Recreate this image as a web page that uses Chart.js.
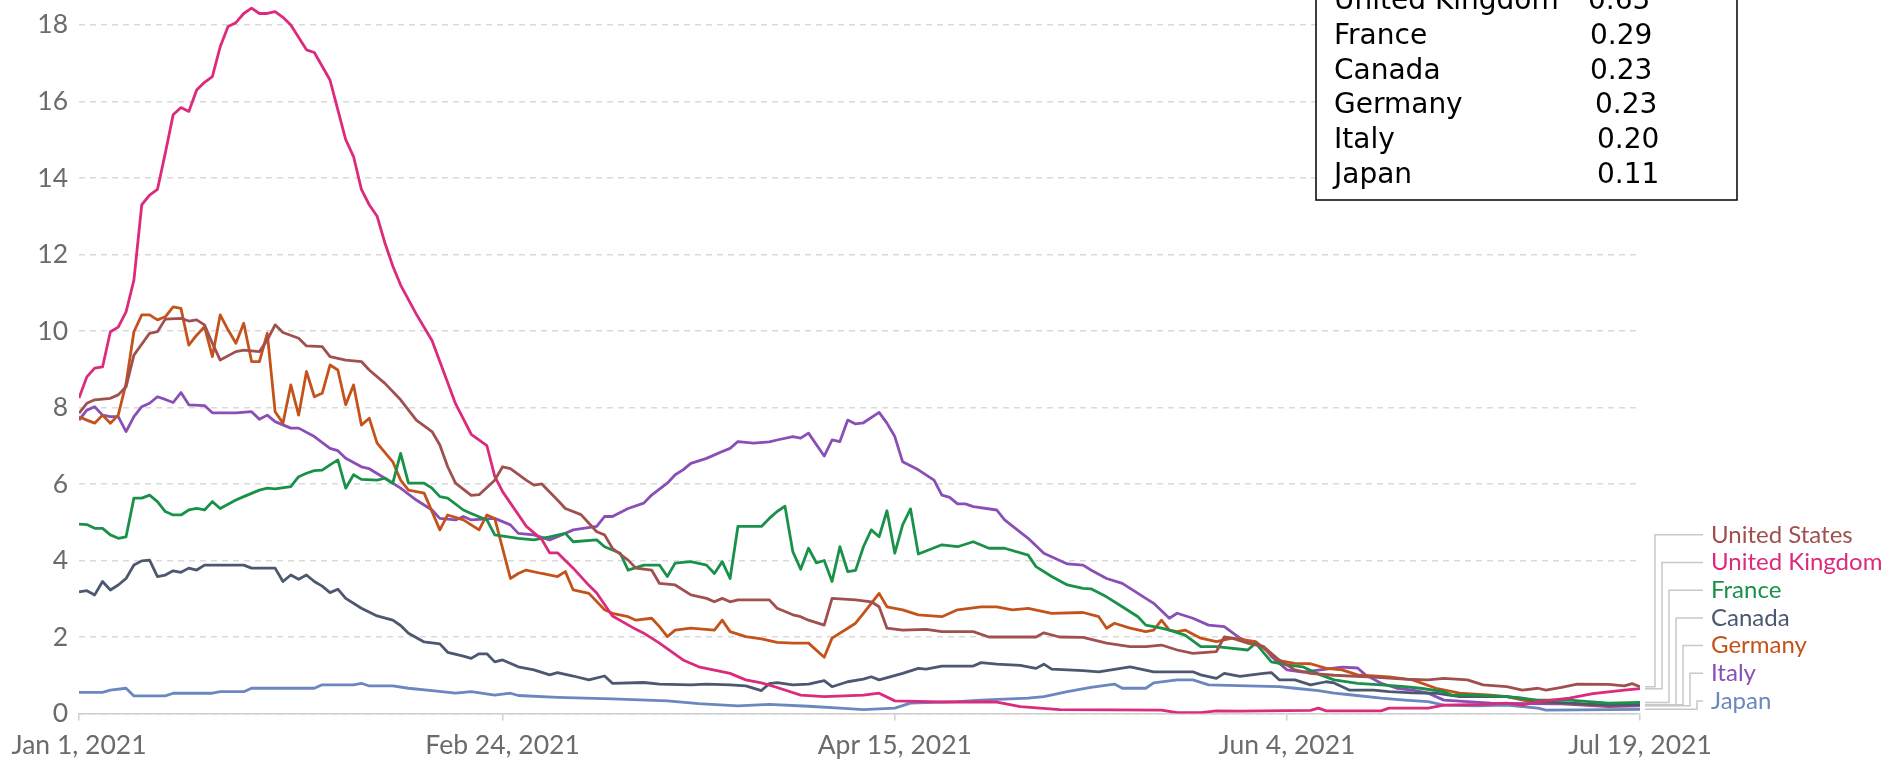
<!DOCTYPE html>
<html>
<head>
<meta charset="utf-8">
<title>Daily new confirmed COVID-19 deaths per million</title>
<script src="https://cdn.jsdelivr.net/npm/chart.js@4.4.1/dist/chart.umd.min.js"></script>
<style>
  html, body { margin: 0; padding: 0; background: #fff; }
  #chart { display: block; }
</style>
</head>
<body>
<canvas id="chart" width="1900" height="760"></canvas>
<script>
// days counted from Jan 1, 2021
const tickDays = [0, 54, 104, 154, 199];
const tickLabels = ['Jan 1, 2021', 'Feb 24, 2021', 'Apr 15, 2021', 'Jun 4, 2021', 'Jul 19, 2021'];
const yTicks = [0, 2, 4, 6, 8, 10, 12, 14, 16, 18];

const countries = ['United States', 'United Kingdom', 'France', 'Canada', 'Germany', 'Italy', 'Japan'];
const colors = ['#a0504e', '#dc2a7c', '#1a9149', '#4c5870', '#c4531b', '#8a4fb6', '#6a87bf'];

// [day, value]
const unitedStates = [[0,7.85],[1,8.11],[2,8.2],[4,8.24],[5,8.33],[6,8.54],[7,9.37],[9,9.94],[10,9.98],[11,10.31],[13,10.33],[14,10.26],[15,10.29],[16,10.16],[17,9.68],[18,9.24],[20,9.46],[21,9.5],[23,9.46],[24,9.76],[25,10.16],[26,9.96],[28,9.81],[29,9.61],[31,9.59],[32,9.33],[34,9.24],[36,9.2],[37,8.98],[39,8.63],[41,8.2],[43,7.67],[45,7.37],[46,7.02],[47,6.45],[48,6.02],[50,5.7],[51,5.72],[53,6.1],[54,6.45],[55,6.4],[57,6.1],[58,5.97],[59,6.0],[61,5.58],[62,5.36],[64,5.2],[66,4.75],[67,4.67],[68,4.32],[70,4.01],[71,3.8],[73,3.75],[74,3.4],[76,3.36],[78,3.1],[80,3.01],[81,2.92],[82,3.01],[83,2.92],[84,2.97],[88,2.97],[89,2.75],[91,2.58],[92,2.53],[93,2.44],[95,2.31],[96,3.01],[99,2.97],[101,2.92],[102,2.79],[103,2.23],[105,2.18],[108,2.2],[110,2.14],[114,2.14],[116,2.0],[119,2.0],[122,2.0],[123,2.11],[125,2.0],[128,1.99],[131,1.84],[134,1.75],[136,1.75],[138,1.79],[140,1.66],[142,1.57],[145,1.62],[146,2.0],[147,1.97],[149,1.84],[151,1.75],[153,1.4],[155,1.14],[157,1.05],[160,1.0],[165,0.95],[169,0.9],[172,0.88],[174,0.92],[177,0.88],[179,0.75],[182,0.7],[184,0.61],[186,0.66],[187,0.61],[189,0.68],[191,0.77],[195,0.76],[197,0.72],[198,0.78],[199,0.7]];
const unitedKingdom = [[0,8.25],[1,8.8],[2,9.03],[3,9.06],[4,9.98],[5,10.1],[6,10.5],[7,11.33],[8,13.3],[9,13.55],[10,13.7],[11,14.65],[12,15.65],[13,15.84],[14,15.74],[15,16.3],[16,16.5],[17,16.65],[18,17.43],[19,17.96],[20,18.06],[21,18.3],[22,18.44],[23,18.3],[24,18.3],[25,18.35],[26,18.2],[27,18.0],[29,17.35],[30,17.28],[32,16.56],[34,15.0],[35,14.56],[36,13.7],[37,13.3],[38,13.0],[39,12.3],[40,11.7],[41,11.2],[43,10.44],[45,9.75],[46,9.2],[48,8.1],[49,7.7],[50,7.3],[52,7.0],[53,6.2],[54,5.8],[57,4.9],[59,4.55],[60,4.2],[61,4.2],[63,3.8],[65,3.35],[66,3.15],[68,2.55],[71,2.2],[72,2.1],[74,1.84],[77,1.4],[79,1.22],[83,1.05],[85,0.88],[87,0.8],[89,0.68],[92,0.48],[95,0.44],[100,0.48],[102,0.53],[104,0.33],[110,0.3],[117,0.3],[120,0.18],[125,0.1],[138,0.09],[140,0.02],[143,0.02],[145,0.07],[148,0.06],[157,0.08],[158,0.14],[159,0.07],[166,0.07],[167,0.14],[172,0.14],[174,0.22],[179,0.24],[182,0.27],[184,0.22],[186,0.31],[190,0.4],[193,0.52],[197,0.61],[199,0.65]];
const france = [[0,4.95],[1,4.94],[2,4.84],[3,4.84],[4,4.67],[5,4.58],[6,4.62],[7,5.63],[8,5.63],[9,5.71],[10,5.54],[11,5.28],[12,5.19],[13,5.19],[14,5.32],[15,5.36],[16,5.32],[17,5.54],[18,5.36],[20,5.58],[21,5.67],[23,5.84],[24,5.89],[25,5.87],[27,5.93],[28,6.19],[29,6.28],[30,6.35],[31,6.36],[32,6.5],[33,6.63],[34,5.89],[35,6.24],[36,6.12],[38,6.1],[39,6.15],[40,6.02],[41,6.8],[42,6.02],[44,6.02],[45,5.89],[46,5.67],[47,5.63],[49,5.32],[50,5.23],[52,5.06],[53,4.67],[56,4.58],[58,4.54],[60,4.62],[62,4.71],[63,4.49],[66,4.54],[67,4.36],[69,4.19],[70,3.75],[72,3.88],[74,3.88],[75,3.58],[76,3.93],[78,3.97],[80,3.88],[81,3.66],[82,3.97],[83,3.53],[84,4.89],[87,4.89],[88,5.1],[89,5.28],[90,5.42],[91,4.23],[92,3.77],[93,4.32],[94,3.94],[95,4.0],[96,3.45],[97,4.36],[98,3.71],[99,3.74],[100,4.36],[101,4.8],[102,4.62],[103,5.3],[104,4.19],[105,4.93],[106,5.35],[107,4.17],[110,4.41],[112,4.36],[114,4.49],[116,4.32],[118,4.32],[121,4.14],[122,3.84],[124,3.58],[126,3.36],[128,3.27],[129,3.26],[131,3.05],[133,2.79],[135,2.53],[136,2.31],[138,2.23],[139,2.18],[141,2.05],[143,1.75],[145,1.75],[149,1.66],[150,1.84],[152,1.35],[154,1.27],[156,1.22],[158,1.03],[160,0.88],[163,0.79],[166,0.75],[169,0.7],[171,0.66],[174,0.57],[175,0.48],[178,0.48],[182,0.44],[186,0.35],[190,0.35],[195,0.27],[199,0.29]];
const canada = [[0,3.18],[1,3.21],[2,3.1],[3,3.45],[4,3.23],[5,3.36],[6,3.53],[7,3.88],[8,3.99],[9,4.01],[10,3.58],[11,3.62],[12,3.73],[13,3.69],[14,3.8],[15,3.75],[16,3.88],[21,3.88],[22,3.8],[25,3.8],[26,3.45],[27,3.62],[28,3.51],[29,3.62],[30,3.45],[31,3.33],[32,3.16],[33,3.25],[34,3.01],[36,2.75],[38,2.55],[40,2.44],[41,2.3],[42,2.1],[44,1.87],[46,1.82],[47,1.6],[49,1.5],[50,1.44],[51,1.56],[52,1.56],[53,1.35],[54,1.4],[56,1.22],[58,1.14],[60,1.01],[61,1.07],[63,0.98],[65,0.88],[67,0.98],[68,0.79],[72,0.81],[74,0.77],[78,0.75],[80,0.77],[83,0.75],[85,0.72],[87,0.6],[88,0.78],[89,0.81],[91,0.75],[93,0.77],[95,0.86],[96,0.7],[98,0.83],[100,0.9],[101,0.96],[102,0.88],[105,1.05],[107,1.18],[108,1.16],[110,1.24],[114,1.24],[115,1.33],[117,1.29],[120,1.26],[122,1.18],[123,1.29],[124,1.16],[128,1.12],[130,1.09],[134,1.22],[137,1.09],[142,1.09],[143,1.01],[145,0.92],[146,1.05],[148,0.97],[151,1.05],[152,1.07],[153,0.88],[155,0.88],[157,0.75],[159,0.83],[160,0.8],[162,0.61],[165,0.61],[167,0.57],[170,0.54],[173,0.53],[176,0.44],[182,0.44],[184,0.4],[186,0.31],[190,0.27],[195,0.22],[199,0.23]];
const germany = [[0,7.76],[1,7.67],[2,7.59],[3,7.8],[4,7.59],[5,7.8],[6,8.63],[7,9.98],[8,10.42],[9,10.42],[10,10.29],[11,10.37],[12,10.63],[13,10.59],[14,9.63],[15,9.89],[16,10.11],[17,9.33],[18,10.42],[19,10.03],[20,9.68],[21,10.2],[22,9.2],[23,9.2],[24,9.94],[25,7.89],[26,7.59],[27,8.59],[28,7.8],[29,8.94],[30,8.28],[31,8.37],[32,9.11],[33,8.98],[34,8.07],[35,8.59],[36,7.54],[37,7.72],[38,7.07],[40,6.58],[41,6.1],[42,5.84],[44,5.76],[46,4.8],[47,5.19],[49,5.06],[51,4.8],[52,5.19],[53,5.1],[55,3.53],[56,3.66],[57,3.75],[59,3.66],[61,3.58],[62,3.71],[63,3.23],[65,3.14],[67,2.71],[68,2.62],[70,2.53],[71,2.44],[73,2.49],[74,2.27],[75,2.01],[76,2.18],[78,2.23],[81,2.18],[82,2.44],[83,2.14],[85,2.01],[87,1.95],[89,1.86],[91,1.84],[93,1.84],[95,1.47],[96,1.97],[98,2.23],[99,2.36],[100,2.62],[102,3.14],[103,2.79],[105,2.71],[107,2.58],[110,2.53],[112,2.71],[115,2.79],[117,2.79],[119,2.71],[121,2.75],[124,2.62],[128,2.64],[130,2.53],[131,2.23],[132,2.36],[134,2.23],[136,2.14],[137,2.18],[138,2.44],[139,2.18],[140,2.14],[141,2.18],[143,1.97],[145,1.88],[147,1.97],[150,1.88],[153,1.38],[155,1.31],[157,1.3],[159,1.18],[161,1.14],[163,1.01],[167,0.96],[170,0.88],[173,0.66],[176,0.53],[180,0.48],[182,0.44],[185,0.31],[189,0.27],[195,0.2],[199,0.23]];
const italy = [[0,7.67],[1,7.93],[2,8.02],[3,7.8],[4,7.76],[5,7.76],[6,7.37],[7,7.76],[8,8.02],[9,8.11],[10,8.28],[11,8.21],[12,8.13],[13,8.39],[14,8.07],[16,8.05],[17,7.86],[20,7.86],[22,7.89],[23,7.69],[24,7.8],[25,7.63],[27,7.46],[28,7.46],[30,7.24],[32,6.93],[33,6.87],[34,6.67],[36,6.45],[37,6.4],[39,6.15],[41,5.89],[43,5.58],[45,5.32],[46,5.1],[48,5.06],[49,5.15],[50,5.06],[53,5.1],[55,4.93],[56,4.71],[58,4.67],[60,4.54],[61,4.62],[63,4.8],[66,4.89],[67,5.15],[68,5.15],[70,5.36],[72,5.5],[73,5.71],[75,6.02],[76,6.24],[77,6.37],[78,6.54],[80,6.67],[82,6.85],[83,6.93],[84,7.11],[86,7.07],[88,7.1],[89,7.15],[91,7.24],[92,7.2],[93,7.33],[95,6.73],[96,7.15],[97,7.11],[98,7.67],[99,7.57],[100,7.6],[102,7.87],[103,7.59],[104,7.24],[105,6.58],[107,6.37],[109,6.1],[110,5.71],[111,5.65],[112,5.48],[113,5.48],[114,5.41],[117,5.32],[118,5.06],[121,4.58],[123,4.19],[126,3.91],[128,3.88],[129,3.75],[131,3.53],[133,3.4],[135,3.14],[137,2.88],[139,2.49],[140,2.62],[142,2.49],[144,2.31],[146,2.27],[148,1.97],[149,1.88],[151,1.75],[152,1.49],[154,1.14],[156,1.08],[159,1.16],[161,1.21],[163,1.19],[164,1.01],[166,0.79],[168,0.66],[170,0.61],[172,0.53],[174,0.35],[177,0.31],[180,0.27],[185,0.26],[189,0.25],[195,0.18],[199,0.2]];
const japan = [[0,0.55],[3,0.55],[4,0.61],[6,0.66],[7,0.46],[11,0.46],[12,0.53],[17,0.53],[18,0.57],[21,0.57],[22,0.66],[30,0.66],[31,0.75],[35,0.75],[36,0.79],[37,0.72],[40,0.72],[42,0.66],[45,0.6],[48,0.53],[50,0.57],[53,0.48],[55,0.53],[56,0.47],[61,0.42],[68,0.38],[75,0.33],[79,0.26],[84,0.2],[88,0.24],[93,0.19],[97,0.14],[100,0.1],[104,0.14],[106,0.27],[112,0.31],[115,0.35],[121,0.4],[123,0.44],[126,0.57],[129,0.68],[132,0.77],[133,0.66],[136,0.66],[137,0.8],[140,0.88],[142,0.88],[144,0.75],[149,0.72],[153,0.7],[155,0.66],[158,0.6],[160,0.53],[162,0.49],[166,0.4],[169,0.35],[172,0.31],[174,0.22],[178,0.2],[182,0.22],[186,0.14],[187,0.09],[199,0.11]];

const seriesData = [unitedStates, unitedKingdom, france, canada, germany, italy, japan];

// latest values listed in the box
const boxCountries = ['United Kingdom', 'France', 'Canada', 'Germany', 'Italy', 'Japan'];
const boxValues = ['0.65', '0.29', '0.23', '0.23', '0.20', '0.11'];

const tickFont = { family: 'Lato', size: 26.5 };
const tickColor = '#6b6b6b';

// line-end labels with connectors + value box
const labelsPlugin = {
    id: 'endLabels',
    afterDatasetsDraw(chart) {
        const ctx = chart.ctx;
        const area = chart.chartArea;
        ctx.save();
        ctx.lineWidth = 1.5;
        ctx.strokeStyle = '#c8c8c8';
        ctx.textBaseline = 'middle';
        ctx.font = '24px Lato';
        chart.data.datasets.forEach((ds, i) => {
            const pts = chart.getDatasetMeta(i).data;
            const end = pts[pts.length - 1];
            const labelY = area.bottom - 12.5 - (countries.length - 1 - i) * 27.7;
            const elbowX = area.right + 15 + i * 7;
            ctx.beginPath();
            ctx.moveTo(end.x + 5, end.y);
            ctx.lineTo(elbowX, end.y);
            ctx.lineTo(elbowX, labelY);
            ctx.lineTo(area.right + 63, labelY);
            ctx.stroke();
            ctx.fillStyle = ds.borderColor;
            ctx.fillText(ds.label, area.right + 71, labelY);
        });
        ctx.restore();
    },
    afterDraw(chart) {
        const ctx = chart.ctx;
        ctx.save();
        ctx.fillStyle = '#fff';
        ctx.fillRect(1316, -10, 421, 210);
        ctx.strokeStyle = '#000';
        ctx.lineWidth = 1.5;
        ctx.strokeRect(1316, -10, 421, 210);
        ctx.fillStyle = '#000';
        ctx.font = '28px "DejaVu Sans"';
        ctx.textBaseline = 'alphabetic';
        const valueX = [1588, 1590, 1590, 1595, 1597, 1597];
        boxCountries.forEach((name, i) => {
            const y = 9 + i * 34.8;
            ctx.fillText(name, 1334, y);
            ctx.fillText(boxValues[i], valueX[i], y);
        });
        ctx.restore();
    }
};

window.onload = function () {
    const ctx = document.getElementById('chart').getContext('2d');
    new Chart(ctx, {
        type: 'line',
        data: {
            datasets: countries.map((name, i) => ({
                label: name,
                data: seriesData[i].map(p => ({ x: p[0], y: p[1] })),
                borderColor: colors[i],
                backgroundColor: colors[i],
                borderWidth: 2.8,
                pointRadius: 0,
                tension: 0,
                borderJoinStyle: 'round',
                fill: false
            }))
        },
        options: {
            responsive: false,
            animation: false,
            devicePixelRatio: 1,
            layout: { padding: { top: 2, right: 260, left: 0, bottom: 0 } },
            plugins: {
                legend: { display: false },
                tooltip: { enabled: false }
            },
            scales: {
                x: {
                    type: 'linear',
                    min: 0,
                    max: 199,
                    afterBuildTicks: (axis) => { axis.ticks = tickDays.map(v => ({ value: v })); },
                    afterFit: (axis) => { axis.height = 46.5; axis.paddingLeft = 0; axis.paddingRight = 0; },
                    grid: {
                        drawOnChartArea: false,
                        drawTicks: true,
                        tickLength: 7,
                        color: '#d0d0d0',
                        lineWidth: 1.5
                    },
                    border: { display: true, color: '#d0d0d0', width: 1.5 },
                    ticks: {
                        autoSkip: false,
                        maxRotation: 0,
                        padding: 9,
                        color: tickColor,
                        font: tickFont,
                        callback: (value) => tickLabels[tickDays.indexOf(value)]
                    }
                },
                y: {
                    min: 0,
                    max: 18.6,
                    afterBuildTicks: (axis) => { axis.ticks = yTicks.map(v => ({ value: v })); },
                    afterFit: (axis) => { axis.width = 79; axis.paddingTop = 0; axis.paddingBottom = 0; },
                    grid: {
                        drawTicks: false,
                        color: '#dadada',
                        lineWidth: 1.5
                    },
                    border: { display: false, dash: [6, 5] },
                    ticks: {
                        padding: 11,
                        color: tickColor,
                        font: tickFont
                    }
                }
            }
        },
        plugins: [labelsPlugin]
    });
};
</script>
</body>
</html>
